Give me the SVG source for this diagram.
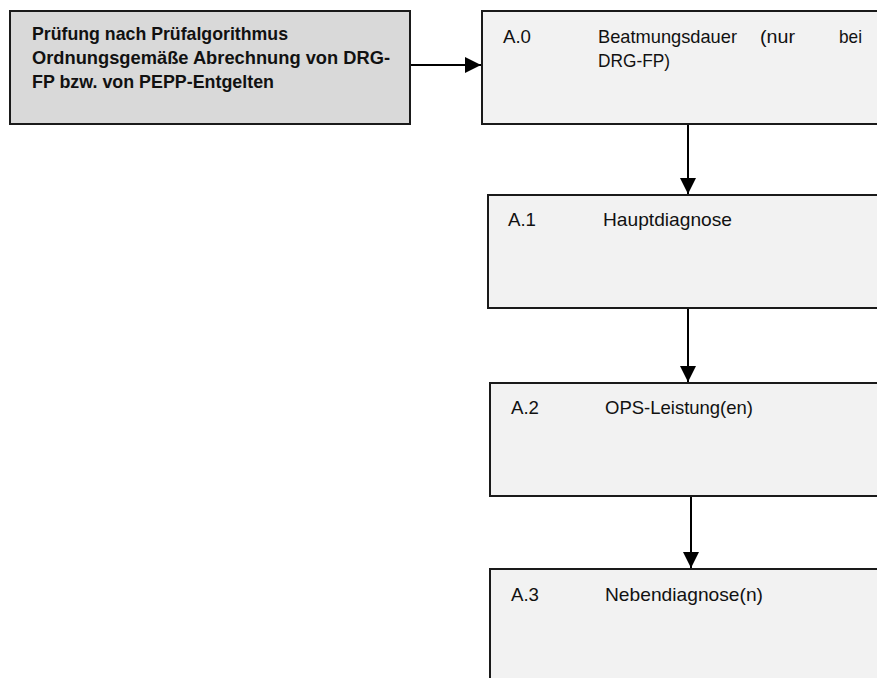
<svg xmlns="http://www.w3.org/2000/svg" width="877" height="678" viewBox="0 0 877 678">
  <style>
    .box { stroke: #1a1a1a; stroke-width: 2; }
    .start { fill: #d9d9d9; }
    .step { fill: #f2f2f2; }
    .lbl { font-family: "Liberation Sans", Arial, sans-serif; font-size: 19px; fill: #111; }
    .bold { font-weight: bold; font-size: 18.5px; }
    .conn { stroke: #000; stroke-width: 2; fill: none; marker-end: url(#arrow); }
  </style>
  <defs>
    <marker id="arrow" markerUnits="userSpaceOnUse" markerWidth="16" markerHeight="16" viewBox="0 0 16 16" refX="16" refY="8" orient="auto">
      <path d="M0,0 L16,8 L0,16 Z" fill="#000"/>
    </marker>
  </defs>

  <rect width="877" height="678" fill="#ffffff"/>

  <g id="connectors">
    <line class="conn" x1="410" y1="65" x2="481" y2="65"/>
    <line class="conn" x1="688" y1="124" x2="688" y2="194"/>
    <line class="conn" x1="688" y1="308" x2="688" y2="382"/>
    <line class="conn" x1="691" y1="496" x2="691" y2="568"/>
  </g>

  <g id="node-start">
    <rect class="box start" x="10" y="11" width="400" height="113"/>
    <text class="lbl bold" x="32" y="40" textLength="256" lengthAdjust="spacingAndGlyphs">Prüfung nach Prüfalgorithmus</text>
    <text class="lbl bold" x="32" y="64" textLength="358" lengthAdjust="spacingAndGlyphs">Ordnungsgemäße Abrechnung von DRG-</text>
    <text class="lbl bold" x="32" y="88" textLength="242" lengthAdjust="spacingAndGlyphs">FP bzw. von PEPP-Entgelten</text>
  </g>

  <g id="node-a0">
    <rect class="box step" x="482" y="11" width="410" height="113"/>
    <text class="lbl" x="503" y="43" textLength="28" lengthAdjust="spacingAndGlyphs">A.0</text>
    <text class="lbl" x="598" y="43" textLength="139" lengthAdjust="spacingAndGlyphs">Beatmungsdauer</text>
    <text class="lbl" x="760" y="43" textLength="35" lengthAdjust="spacingAndGlyphs">(nur</text>
    <text class="lbl" x="839" y="43" textLength="23" lengthAdjust="spacingAndGlyphs">bei</text>
    <text class="lbl" x="598" y="67" textLength="72" lengthAdjust="spacingAndGlyphs">DRG-FP)</text>
  </g>

  <g id="node-a1">
    <rect class="box step" x="488" y="195" width="404" height="113"/>
    <text class="lbl" x="508" y="226" textLength="28" lengthAdjust="spacingAndGlyphs">A.1</text>
    <text class="lbl" x="603" y="226" textLength="129" lengthAdjust="spacingAndGlyphs">Hauptdiagnose</text>
  </g>

  <g id="node-a2">
    <rect class="box step" x="490" y="383" width="402" height="113"/>
    <text class="lbl" x="511" y="414" textLength="28" lengthAdjust="spacingAndGlyphs">A.2</text>
    <text class="lbl" x="605" y="414" textLength="148" lengthAdjust="spacingAndGlyphs">OPS-Leistung(en)</text>
  </g>

  <g id="node-a3">
    <rect class="box step" x="490" y="569" width="402" height="120"/>
    <text class="lbl" x="511" y="601" textLength="28" lengthAdjust="spacingAndGlyphs">A.3</text>
    <text class="lbl" x="605" y="601" textLength="158" lengthAdjust="spacingAndGlyphs">Nebendiagnose(n)</text>
  </g>
</svg>
